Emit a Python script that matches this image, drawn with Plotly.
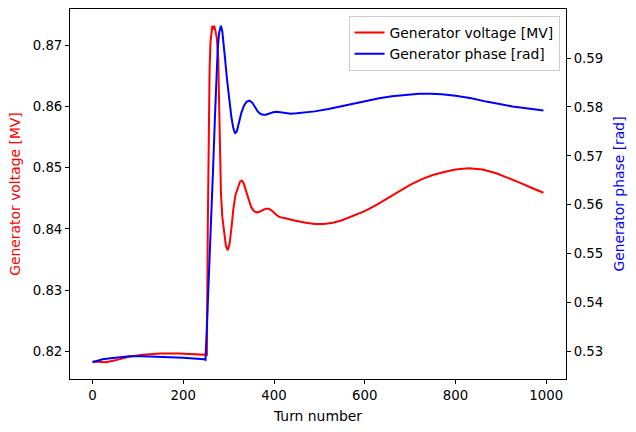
import plotly.graph_objects as go

# Generator voltage [MV] vs turn
volt_turn = [0, 15, 30, 50, 80, 110, 150, 190, 220, 250, 252, 254, 256, 258, 260, 262, 264, 266, 268, 270,
             274, 277, 279, 281, 283, 286, 290, 294, 298, 302, 306, 310, 315, 320, 325, 329, 333, 338, 344,
             350, 356, 362, 368, 375, 382, 388, 395, 402, 410, 420, 435, 450, 470, 490, 510, 530, 550, 575,
             600, 625, 650, 675, 700, 725, 750, 775, 800, 830, 860, 890, 915, 940, 965, 994]
volt_val = [0.8183, 0.8182, 0.8182, 0.8185, 0.8191, 0.8194, 0.8196, 0.8196, 0.8195, 0.8193, 0.8194, 0.8400,
            0.8560, 0.8660, 0.8705, 0.8725, 0.8732, 0.8726, 0.8732, 0.8727, 0.8712, 0.8680, 0.8600, 0.8520,
            0.8460, 0.8420, 0.8390, 0.8372, 0.8365, 0.8375, 0.8400, 0.8430, 0.8455, 0.8468, 0.8477, 0.8479,
            0.8475, 0.8463, 0.8447, 0.8435, 0.8429, 0.8427, 0.8428, 0.8431, 0.8433, 0.8433, 0.8430, 0.8425,
            0.8420, 0.8418, 0.8415, 0.8413, 0.8410, 0.8408, 0.8408, 0.8410, 0.8414, 0.8421, 0.8429, 0.8439,
            0.8450, 0.8461, 0.8472, 0.8481, 0.8488, 0.8493, 0.8497, 0.8499, 0.8497, 0.8491, 0.8484, 0.8476,
            0.8468, 0.8459]

# Generator phase [rad] vs turn
phase_turn = [0, 10, 22, 40, 60, 81, 110, 154, 200, 246, 249, 252, 255, 258, 262, 266, 270, 273, 276, 279,
              283, 286, 289, 292, 296, 301, 306, 310, 314, 318, 323, 328, 334, 340, 346, 352, 358, 364, 370,
              376, 382, 390, 398, 406, 415, 425, 437, 450, 470, 490, 520, 560, 600, 632, 660, 690, 720, 745,
              770, 800, 835, 868, 900, 926, 960, 994]
phase_val = [0.5278, 0.5281, 0.5284, 0.5286, 0.5288, 0.5290, 0.5290, 0.5289, 0.5287, 0.5284, 0.5283, 0.5350,
             0.5430, 0.5510, 0.5610, 0.5680, 0.5784, 0.5860, 0.5920, 0.5952, 0.5966, 0.5955, 0.5932, 0.5900,
             0.5860, 0.5818, 0.5780, 0.5758, 0.5746, 0.5750, 0.5768, 0.5788, 0.5803, 0.5811, 0.5813, 0.5809,
             0.5800, 0.5791, 0.5786, 0.5784, 0.5784, 0.5787, 0.5789, 0.5790, 0.5789, 0.5787, 0.5786, 0.5787,
             0.5789, 0.5791, 0.5796, 0.5804, 0.5812, 0.5818, 0.5822, 0.5825, 0.5827, 0.5827, 0.5826, 0.5823,
             0.5818, 0.5811, 0.5805, 0.5801, 0.5797, 0.5793]

x_ticks = [0, 200, 400, 600, 800, 1000]
volt_ticks = [0.82, 0.83, 0.84, 0.85, 0.86, 0.87]
phase_ticks = [0.53, 0.54, 0.55, 0.56, 0.57, 0.58, 0.59]


def padded(vals, frac=0.05):
    lo, hi = min(vals), max(vals)
    w = hi - lo
    return [lo - frac * w, hi + frac * w]


FONT = "DejaVu Sans"
fig = go.Figure()
fig.add_trace(go.Scatter(x=volt_turn, y=volt_val, mode="lines", name="Generator voltage [MV]",
                         line=dict(color="red", width=2), yaxis="y"))
fig.add_trace(go.Scatter(x=phase_turn, y=phase_val, mode="lines", name="Generator phase [rad]",
                         line=dict(color="blue", width=2), yaxis="y2"))

axis_common = dict(showline=True, linecolor="black", linewidth=1, ticks="outside", ticklen=4,
                   tickwidth=1, tickcolor="black", showgrid=False, zeroline=False,
                   tickfont=dict(family=FONT, size=13.3, color="black"))

fig.update_layout(
    width=636, height=432,
    margin=dict(l=70, r=70, t=9, b=53),
    paper_bgcolor="white", plot_bgcolor="white",
    font=dict(family=FONT, size=13.9, color="black"),
    xaxis=dict(range=padded(volt_turn), tickvals=x_ticks, mirror=True,
               title=dict(text="Turn number", font=dict(family=FONT, size=13.9, color="black"), standoff=9),
               **axis_common),
    yaxis=dict(range=padded(volt_val), tickvals=volt_ticks, tickformat=".2f",
               title=dict(text="Generator voltage [MV]", font=dict(family=FONT, size=13.9, color="red"), standoff=8),
               **axis_common),
    yaxis2=dict(range=padded(phase_val), tickvals=phase_ticks, tickformat=".2f", overlaying="y", side="right",
                title=dict(text="Generator phase [rad]", font=dict(family=FONT, size=13.9, color="blue"), standoff=12),
                **axis_common),
    legend=dict(x=0.987, y=0.981, xanchor="right", yanchor="top", bgcolor="rgba(255,255,255,0.8)",
                bordercolor="#cccccc", borderwidth=1, font=dict(family=FONT, size=13.9, color="black"),
                itemwidth=30, tracegroupgap=0),
    showlegend=True,
)

fig.write_html("out.html")
